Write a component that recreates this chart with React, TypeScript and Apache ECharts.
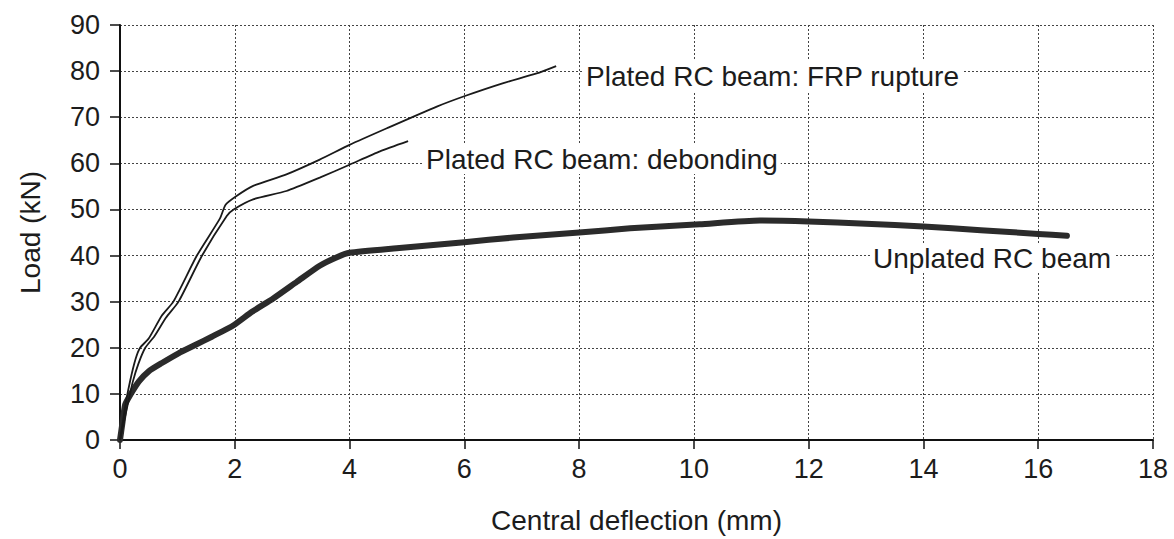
import React, { useEffect, useRef } from "react";
import * as echarts from "echarts";

const xTicks = [0, 2, 4, 6, 8, 10, 12, 14, 16, 18];
const yTicks = [0, 10, 20, 30, 40, 50, 60, 70, 80, 90];

const frpX = [0, 0.05, 0.1, 0.18, 0.27, 0.35, 0.5, 0.73, 0.93, 1.34, 1.74, 1.84, 2.03, 2.32, 2.9, 3.48, 4.0, 4.65, 5.52, 6.01, 6.68, 7.26, 7.6];
const frpY = [0, 4, 8, 13, 17.5, 20, 22, 27, 30, 40, 48, 51, 52.9, 55.1, 57.6, 60.8, 64, 67.6, 72.3, 74.6, 77.4, 79.5, 81.1];

const debX = [0, 0.07, 0.14, 0.22, 0.32, 0.44, 0.6, 0.8, 1.02, 1.43, 1.86, 1.98, 2.32, 2.9, 3.48, 4.0, 4.53, 5.02];
const debY = [0, 4, 8, 12.5, 16.5, 20, 22.5, 26.5, 30, 40, 48.6, 50, 52.2, 54, 56.9, 59.7, 62.6, 64.8];

const unpX = [0, 0.04, 0.09, 0.18, 0.33, 0.5, 0.73, 1.02, 1.31, 1.6, 1.98, 2.3, 2.67, 3.08, 3.48, 3.77, 4.0, 4.82, 6.0, 6.85, 8.0, 8.89, 10.1, 11.15, 12.0, 13.0, 14.0, 15.0, 16.0, 16.5];
const unpY = [0, 3.5, 7.7, 9.8, 12.7, 14.9, 16.7, 18.8, 20.6, 22.4, 24.9, 27.8, 30.7, 34.3, 37.8, 39.6, 40.6, 41.6, 42.9, 43.9, 45.0, 45.9, 46.8, 47.6, 47.4, 46.9, 46.3, 45.5, 44.7, 44.3];

const labels = [
  { text: "Plated RC beam: FRP rupture", x: 583, y: 76 },
  { text: "Plated RC beam: debonding", x: 423, y: 159 },
  { text: "Unplated RC beam", x: 870, y: 258 },
];

const xName = "Central deflection (mm)";
const yName = "Load (kN)";

const FONT = '"Liberation Sans", Arial, Helvetica, sans-serif';
const INK = "#1c1c1c";

const pairs = (xs: number[], ys: number[]) => xs.map((x, i) => [x, ys[i]]);

export default function App() {
  const ref = useRef<HTMLDivElement>(null);
  useEffect(() => {
    document.body.style.margin = "0";
    const chart = echarts.init(ref.current!, null, { renderer: "svg" });
    const gridStyle = { color: "#444", width: 1, type: [2, 2] as any };
    chart.setOption({
      animation: false,
      backgroundColor: "#fff",
      grid: { left: 120, right: 21, top: 25, bottom: 97 },
      xAxis: {
        type: "value",
        min: xTicks[0],
        max: xTicks[xTicks.length - 1],
        interval: 2,
        name: xName,
        nameLocation: "middle",
        nameGap: 66,
        nameTextStyle: { fontFamily: FONT, fontSize: 28, color: INK },
        axisLine: { show: true, lineStyle: { color: "#111", width: 2 } },
        axisTick: { show: true, length: 9, lineStyle: { color: "#111", width: 1.5 } },
        axisLabel: { margin: 15, fontFamily: FONT, fontSize: 27, color: INK },
        splitLine: { show: true, lineStyle: gridStyle },
      },
      yAxis: {
        type: "value",
        min: yTicks[0],
        max: yTicks[yTicks.length - 1],
        interval: 10,
        name: yName,
        nameLocation: "middle",
        nameRotate: 90,
        nameGap: 76,
        nameTextStyle: { fontFamily: FONT, fontSize: 28, color: INK },
        axisLine: { show: true, lineStyle: { color: "#111", width: 2 } },
        axisTick: { show: true, length: 10, lineStyle: { color: "#111", width: 1.5 } },
        axisLabel: { margin: 20, fontFamily: FONT, fontSize: 27, color: INK },
        splitLine: { show: true, lineStyle: gridStyle },
      },
      series: [
        {
          type: "line",
          name: "Unplated RC beam",
          data: pairs(unpX, unpY),
          showSymbol: false,
          smooth: 0.2,
          lineStyle: { color: "#2b2b2b", width: 6, cap: "round", join: "round" },
          z: 3,
        },
        {
          type: "line",
          name: "Plated RC beam: FRP rupture",
          data: pairs(frpX, frpY),
          showSymbol: false,
          smooth: 0.2,
          lineStyle: { color: "#1a1a1a", width: 1.8 },
          z: 4,
        },
        {
          type: "line",
          name: "Plated RC beam: debonding",
          data: pairs(debX, debY),
          showSymbol: false,
          smooth: 0.2,
          lineStyle: { color: "#1a1a1a", width: 1.8 },
          z: 4,
        },
      ],
      graphic: labels.map((l) => ({
        type: "text",
        x: l.x,
        y: l.y,
        z: 10,
        style: {
          text: l.text,
          font: `28px ${FONT}`,
          fill: INK,
          align: "left",
          verticalAlign: "middle",
          backgroundColor: "#fff",
          padding: [1, 3],
        },
      })),
    });
    return () => chart.dispose();
  }, []);
  return <div ref={ref} style={{ width: 1174, height: 539 }} />;
}
